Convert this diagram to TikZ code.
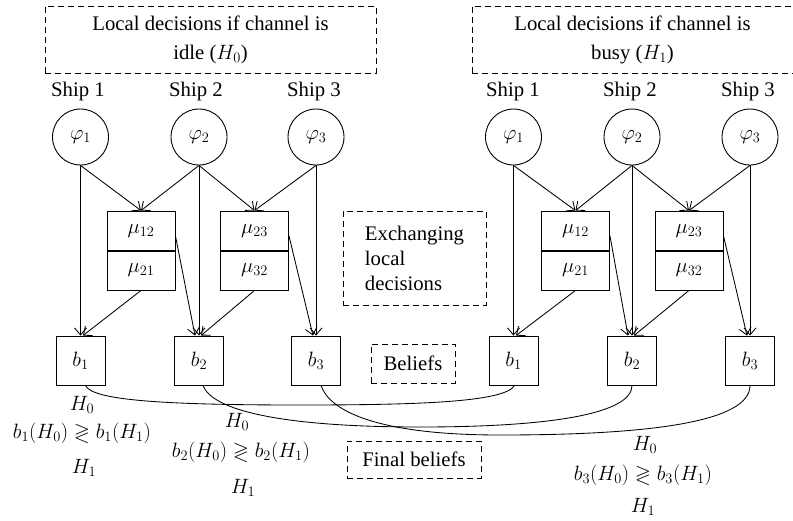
\documentclass[tikz,border=0pt]{standalone}
\usepackage{amssymb}
\usepackage{fontspec}
\setmainfont{Liberation Serif}
\usetikzlibrary{arrows.meta}
\begin{document}
\begin{tikzpicture}[x=1pt,y=-1pt,
  every node/.style={font=\fontsize{20.74}{25}\selectfont},
  ln/.style={line width=0.85pt},
  arr/.style={line width=0.85pt,-{Straight Barb[length=7pt,width=12pt,line width=0.85pt]}},
  dbox/.style={draw,line width=0.9pt,dash pattern=on 6pt off 4pt,inner sep=0pt},
  title/.style={dbox,align=center,font=\fontsize{20.74}{29}\selectfont},
  shipc/.style={circle,draw,line width=0.9pt,minimum size=56pt,inner sep=0pt},
  bbox/.style={draw,line width=0.9pt,minimum size=49pt,inner sep=0pt},
  mbox/.style={draw,line width=0.9pt,minimum width=68pt,minimum height=39.5pt,inner sep=0pt},
  lab/.style={inner sep=0pt}]
\useasboundingbox (0,0) rectangle (793,520);

% titles
\node[title,minimum width=331pt,minimum height=67pt] (t0) at (210.5,39.5) {Local decisions if channel is\\idle ($H_0$)};
\node[title,minimum width=321pt,minimum height=67pt] (t1) at (632.5,39.5) {Local decisions if channel is\\busy ($H_1$)};

% ship labels
\node[lab] (s1L) at (78,92) {Ship 1};
\node[lab] (s2L) at (196,92) {Ship 2};
\node[lab] (s3L) at (314,92) {Ship 3};
\node[lab] (s1R) at (513,92) {Ship 1};
\node[lab] (s2R) at (630,92) {Ship 2};
\node[lab] (s3R) at (748,92) {Ship 3};

% circles
\node[shipc] (p1L) at (80.5,137) {$\varphi_1$};
\node[shipc] (p2L) at (199,137) {$\varphi_2$};
\node[shipc] (p3L) at (316,137) {$\varphi_3$};
\node[shipc] (p1R) at (513.5,137) {$\varphi_1$};
\node[shipc] (p2R) at (632,137) {$\varphi_2$};
\node[shipc] (p3R) at (750,137) {$\varphi_3$};

% mu boxes
\node[mbox] (m12L) at (141,230.75) {$\mu_{12}$};
\node[mbox] (m21L) at (141,270.25) {$\mu_{21}$};
\node[mbox] (m23L) at (254.5,230.75) {$\mu_{23}$};
\node[mbox] (m32L) at (254.5,270.25) {$\mu_{32}$};
\node[mbox] (m12R) at (575.5,230.75) {$\mu_{12}$};
\node[mbox] (m21R) at (575.5,270.25) {$\mu_{21}$};
\node[mbox] (m23R) at (689,230.75) {$\mu_{23}$};
\node[mbox] (m32R) at (689,270.25) {$\mu_{32}$};
\foreach \m in {m12L,m23L,m12R,m23R}
  \draw[line width=2.2pt] (\m.south west) -- (\m.south east);

% belief boxes
\node[bbox] (b1L) at (80.5,360.5) {$b_1$};
\node[bbox] (b2L) at (199,360.5) {$b_2$};
\node[bbox] (b3L) at (316,360.5) {$b_3$};
\node[bbox] (b1R) at (513.5,360.5) {$b_1$};
\node[bbox] (b2R) at (632,360.5) {$b_2$};
\node[bbox] (b3R) at (750,360.5) {$b_3$};

% middle labels
\node[dbox,minimum width=143pt,minimum height=94pt,align=left] (ex) at (414.5,258) {Exchanging\\local\\decisions};
\node[dbox,minimum width=84pt,minimum height=39pt] (bel) at (413,363.5) {Beliefs};
\node[dbox,minimum width=134pt,minimum height=37pt] (fin) at (414,459.5) {Final beliefs};

% connectors, both halves
\foreach \s in {L,R}{
  \draw[arr] (p1\s.south) -- (m12\s.north);
  \draw[arr] (p2\s.south) -- (m12\s.north);
  \draw[arr] (p2\s.south) -- (m23\s.north);
  \draw[arr] (p3\s.south) -- (m23\s.north);
  \draw[arr] (p1\s.south) -- (b1\s.north);
  \draw[arr] (m21\s.south) -- ([xshift=2.5pt]b1\s.north);
  \draw[arr] (p2\s.south) -- (b2\s.north);
  \draw[arr] ([yshift=-5pt]m12\s.east) -- ([xshift=-4pt]b2\s.north);
  \draw[arr] (m32\s.south) -- ([xshift=2pt]b2\s.north);
  \draw[arr] ([yshift=-5pt]m23\s.east) -- ([xshift=-3pt]b3\s.north);
  \draw[arr] (p3\s.south) -- (b3\s.north);
}

% final belief curves
\draw[ln] ([xshift=5pt]b1L.south) .. controls (92,400) and (160,405) .. (300,405)
   .. controls (420,405) and (505,402) .. ([xshift=1pt]b1R.south);
\draw[ln] ([xshift=4pt]b2L.south) .. controls (212,410) and (280,427) .. (420,427)
   .. controls (560,427) and (632,412) .. (b2R.south);
\draw[ln] ([xshift=5pt]b3L.south) .. controls (330,412) and (380,435) .. (500,435)
   .. controls (650,435) and (750,422) .. (b3R.south);

% decision rules
\node[lab] (h01) at (82,405) {$H_0$};
\node[lab] (e1) at (82,433) {$b_1(H_0)\gtrless b_1(H_1)$};
\node[lab] (h11) at (84,468) {$H_1$};
\node[lab] (h02) at (237,422) {$H_0$};
\node[lab] (e2) at (241,452) {$b_2(H_0)\gtrless b_2(H_1)$};
\node[lab] (h12) at (243,488) {$H_1$};
\node[lab] (h03) at (645,445) {$H_0$};
\node[lab] (e3) at (643,475) {$b_3(H_0)\gtrless b_3(H_1)$};
\node[lab] (h13) at (643,507) {$H_1$};
\end{tikzpicture}
\end{document}
